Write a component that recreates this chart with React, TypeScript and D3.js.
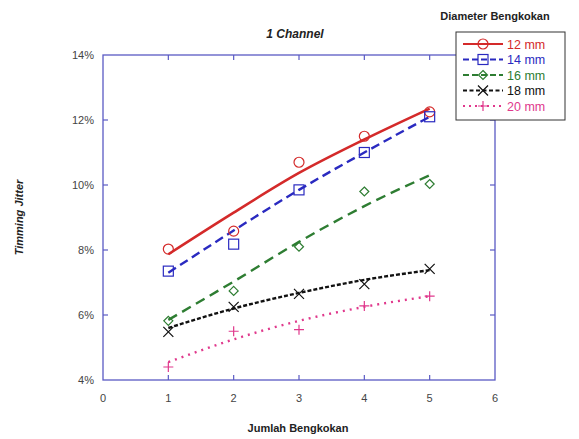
import { useEffect, useRef } from "react";
import * as d3 from "d3";

const xs = [1, 2, 3, 4, 5];
const xTicks = [0, 1, 2, 3, 4, 5, 6];
const yTicks = [0.04, 0.06, 0.08, 0.1, 0.12, 0.14];

const labels = ["12 mm", "14 mm", "16 mm", "18 mm", "20 mm"];
const colors = ["#d42a2a", "#2a2ac0", "#2e7d32", "#111111", "#e0388c"];
const dashes = ["", "9,5", "10,6", "4,2", "2,5"];
const markers = ["circle", "square", "diamond", "x", "plus"];

// measured points
const pts12 = [0.0803, 0.0858, 0.107, 0.115, 0.1225];
const pts14 = [0.0735, 0.0818, 0.0985, 0.11, 0.121];
const pts16 = [0.0582, 0.0674, 0.081, 0.098, 0.1003];
const pts18 = [0.0548, 0.0625, 0.0665, 0.0695, 0.0742];
const pts20 = [0.044, 0.055, 0.0555, 0.0628, 0.0658];

// trend lines
const fit12 = [0.0787, 0.0915, 0.1037, 0.114, 0.1235];
const fit14 = [0.073, 0.086, 0.0985, 0.11, 0.121];
const fit16 = [0.0585, 0.0703, 0.0825, 0.0935, 0.103];
const fit18 = [0.056, 0.062, 0.0668, 0.0708, 0.0738];
const fit20 = [0.0455, 0.0525, 0.0582, 0.0625, 0.0658];

const points = [pts12, pts14, pts16, pts18, pts20];
const fits = [fit12, fit14, fit16, fit18, fit20];

const W = 579;
const H = 439;
const margin = { top: 55, right: 84, bottom: 59, left: 103 };
const axisColor = "#5a5ac4";
const font = "Liberation Sans, Arial, sans-serif";

const drawMarker = (g, type, cx, cy, color) => {
  const s = g.append("g").attr("transform", `translate(${cx},${cy})`)
    .attr("fill", "none").attr("stroke", color).attr("stroke-width", 1.2);
  if (type === "circle") s.append("circle").attr("r", 5);
  if (type === "square") s.append("rect").attr("x", -5).attr("y", -5).attr("width", 10).attr("height", 10);
  if (type === "diamond") s.append("path").attr("d", "M0,-4.5L4.5,0L0,4.5L-4.5,0Z");
  if (type === "x") s.append("path").attr("d", "M-5,-5L5,5M-5,5L5,-5");
  if (type === "plus") s.append("path").attr("d", "M-5,0L5,0M0,-5L0,5");
};

const App = () => {
  const ref = useRef(null);

  useEffect(() => {
    const svg = d3.select(ref.current);
    svg.selectAll("*").remove();

    const x = d3.scaleLinear().domain([0, 6]).range([margin.left, W - margin.right]);
    const y = d3.scaleLinear().domain([0.04, 0.14]).range([H - margin.bottom, margin.top]);
    const [x0, x1] = x.range();
    const [y0, y1] = y.range();

    svg.append("rect").attr("width", W).attr("height", H).attr("fill", "#fff");

    // frame
    svg.append("rect")
      .attr("x", x0).attr("y", y1).attr("width", x1 - x0).attr("height", y0 - y1)
      .attr("fill", "none").attr("stroke", axisColor).attr("stroke-width", 1.3);

    const tk = svg.append("g").attr("stroke", axisColor).attr("stroke-width", 1.2);
    xTicks.slice(1, -1).forEach((t) => {
      tk.append("line").attr("x1", x(t)).attr("x2", x(t)).attr("y1", y0).attr("y2", y0 - 5);
      tk.append("line").attr("x1", x(t)).attr("x2", x(t)).attr("y1", y1).attr("y2", y1 + 5);
    });
    yTicks.slice(1, -1).forEach((t) => {
      tk.append("line").attr("x1", x0).attr("x2", x0 + 5).attr("y1", y(t)).attr("y2", y(t));
      tk.append("line").attr("x1", x1).attr("x2", x1 - 5).attr("y1", y(t)).attr("y2", y(t));
    });

    const fmt = d3.format(".0%");
    svg.append("g").selectAll("text").data(xTicks).join("text")
      .attr("x", (d) => x(d)).attr("y", y0 + 22)
      .attr("text-anchor", "middle").attr("font-family", font).attr("font-size", 11)
      .attr("fill", "#444").text((d) => d);
    svg.append("g").selectAll("text").data(yTicks).join("text")
      .attr("x", x0 - 9).attr("y", (d) => y(d) + 4)
      .attr("text-anchor", "end").attr("font-family", font).attr("font-size", 11)
      .attr("fill", "#444").text((d) => fmt(d));

    // titles
    svg.append("text").attr("x", 295).attr("y", 38).attr("text-anchor", "middle")
      .attr("font-family", font).attr("font-size", 12).attr("font-weight", "bold")
      .attr("font-style", "italic").attr("fill", "#222").text("1 Channel");
    svg.append("text").attr("x", 298).attr("y", 432).attr("text-anchor", "middle")
      .attr("font-family", font).attr("font-size", 11).attr("font-weight", "bold")
      .attr("fill", "#222").text("Jumlah Bengkokan");
    svg.append("text").attr("transform", `translate(23,${(y0 + y1) / 2}) rotate(-90)`)
      .attr("text-anchor", "middle")
      .attr("font-family", font).attr("font-size", 11).attr("font-weight", "bold")
      .attr("font-style", "italic").attr("fill", "#222").text("Timming Jitter");

    const line = d3.line().x((d, i) => x(xs[i])).y((d) => y(d)).curve(d3.curveMonotoneX);

    fits.forEach((f, i) => {
      svg.append("path").attr("d", line(f)).attr("fill", "none")
        .attr("stroke", colors[i]).attr("stroke-width", i === 0 ? 2.6 : 2.4)
        .attr("stroke-dasharray", dashes[i] || null);
    });
    points.forEach((p, i) => {
      p.forEach((v, j) => drawMarker(svg, markers[i], x(xs[j]), y(v), colors[i]));
    });

    // legend
    svg.append("text").attr("x", 495).attr("y", 20).attr("text-anchor", "middle")
      .attr("font-family", font).attr("font-size", 11).attr("font-weight", "bold")
      .attr("fill", "#222").text("Diameter Bengkokan");
    const lg = svg.append("g");
    lg.append("rect").attr("x", 456).attr("y", 32).attr("width", 109).attr("height", 88)
      .attr("fill", "#fff").attr("stroke", "#333").attr("stroke-width", 1);
    labels.forEach((l, i) => {
      const ly = 44 + i * 15.5;
      lg.append("line").attr("x1", 463).attr("x2", 503).attr("y1", ly).attr("y2", ly)
        .attr("stroke", colors[i]).attr("stroke-width", 2)
        .attr("stroke-dasharray", i === 0 ? null : i === 4 ? "2,4" : i === 3 ? "4,2.5" : "6,3");
      drawMarker(lg, markers[i], 483, ly, colors[i]);
      lg.append("text").attr("x", 507).attr("y", ly + 4.5)
        .attr("font-family", font).attr("font-size", 12.5).attr("fill", colors[i]).text(l);
    });
  }, []);

  return (
    <svg
      ref={ref}
      width={W}
      height={H}
      style={{ display: "block", position: "absolute", left: 0, top: 0 }}
    />
  );
};

export default App;
